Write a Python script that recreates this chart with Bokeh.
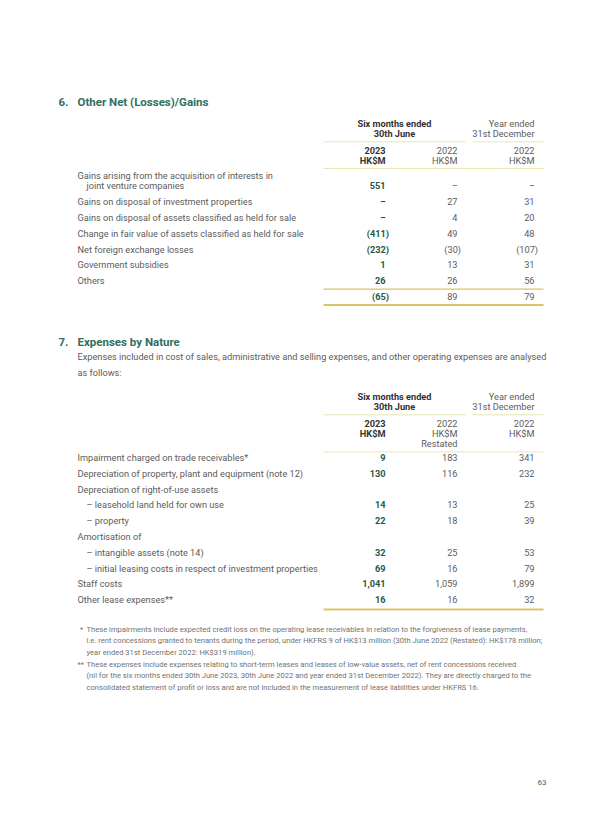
from bokeh.plotting import figure
from bokeh.models import Range1d, ColumnDataSource
from bokeh.core.properties import value
from bokeh.embed import file_html
from bokeh.resources import INLINE

# ---------------- data ----------------
s6_number = "6."
s6_title = "Other Net (Losses)/Gains"
s6_labels = [
    ["Gains arising from the acquisition of interests in", "joint venture companies"],
    ["Gains on disposal of investment properties"],
    ["Gains on disposal of assets classified as held for sale"],
    ["Change in fair value of assets classified as held for sale"],
    ["Net foreign exchange losses"],
    ["Government subsidies"],
    ["Others"],
]
s6_h1_2023 = [551, 0, 0, -411, -232, 1, 26]
s6_h1_2022 = [0, 27, 4, 49, -30, 13, 26]
s6_fy_2022 = [0, 31, 20, 48, -107, 31, 56]
s6_totals = [-65, 89, 79]

s7_number = "7."
s7_title = "Expenses by Nature"
s7_intro = [
    "Expenses included in cost of sales, administrative and selling expenses, and other operating expenses are analysed",
    "as follows:",
]
s7_labels = [
    "Impairment charged on trade receivables*",
    "Depreciation of property, plant and equipment (note 12)",
    "Depreciation of right-of-use assets",
    "\u2013 leasehold land held for own use",
    "\u2013 property",
    "Amortisation of",
    "\u2013 intangible assets (note 14)",
    "\u2013 initial leasing costs in respect of investment properties",
    "Staff costs",
    "Other lease expenses**",
]
s7_h1_2023 = [9, 130, None, 14, 22, None, 32, 69, 1041, 16]
s7_h1_2022 = [183, 116, None, 13, 18, None, 25, 16, 1059, 16]
s7_fy_2022 = [341, 232, None, 25, 39, None, 53, 79, 1899, 32]

group_heads = [["Six months ended", "30th June"], ["Year ended", "31st December"]]
col_heads_s6 = [["2023", "HK$M"], ["2022", "HK$M"], ["2022", "HK$M"]]
col_heads_s7 = [["2023", "HK$M"], ["2022", "HK$M", "Restated"], ["2022", "HK$M"]]

footnotes = [
    ("*", ["These impairments include expected credit loss on the operating lease receivables in relation to the forgiveness of lease payments,",
           "i.e. rent concessions granted to tenants during the period, under HKFRS 9 of HK$13 million (30th June 2022 (Restated): HK$178 million;",
           "year ended 31st December 2022: HK$319 million)."]),
    ("**", ["These expenses include expenses relating to short-term leases and leases of low-value assets, net of rent concessions received",
            "(nil for the six months ended 30th June 2023, 30th June 2022 and year ended 31st December 2022). They are directly charged to the",
            "consolidated statement of profit or loss and are not included in the measurement of lease liabilities under HKFRS 16."]),
]
page_number = "63"

# ---------------- styling / layout ----------------
FONT = "Roboto"
TEAL = "#2f6e5f"
GREEN = "#1f5a4a"
BODY = "#5c5c5c"
FOOT = "#727272"
DARK = "#333333"
PALE = "#ebe5b4"
GOLD = "#d9c466"

BODY_SIZE = "9.2px"
FOOT_SIZE = "7.6px"
HEAD_SIZE = "11.5px"

NUM_X = 58
LABEL_X = 77
INDENT = 9
COL_R = [385, 457, 534]
TABLE_L, TABLE_R = 323, 543
GROUP_SPAN = [(323, 465), (472, 543)]
ROW_STEP = 15.8
LINE_STEP = 10.3
HEAD_STEP = 10.4

p = figure(width=584, height=798, output_backend="svg", toolbar_location=None,
           x_range=Range1d(0, 584), y_range=Range1d(798, 0),
           min_border=0, min_border_left=0, min_border_right=0,
           min_border_top=0, min_border_bottom=0)
p.axis.visible = False
p.grid.visible = False
p.outline_line_color = None
p.background_fill_color = "white"
p.border_fill_color = "white"

texts = {k: [] for k in ["x", "y", "text", "color", "size", "style", "align"]}


def add_text(x, y, t, color=BODY, size=BODY_SIZE, style="normal", align="left"):
    texts["x"].append(x)
    texts["y"].append(y)
    texts["text"].append(t)
    texts["color"].append(color)
    texts["size"].append(size)
    texts["style"].append(style)
    texts["align"].append(align)


def fmt(v):
    if v is None:
        return ""
    if v == 0:
        return "\u2013"
    s = f"{abs(v):,}"
    return f"({s})" if v < 0 else s


def add_value(col, y, v, bold):
    t = fmt(v)
    if not t:
        return
    color = GREEN if bold else BODY
    style = "bold" if bold else "normal"
    x = COL_R[col]
    if v == 0:
        add_text(x - 2.5, y, t, color, BODY_SIZE, style, "center")
    elif v < 0:
        add_text(x + 3.5, y, t, color, BODY_SIZE, style, "right")
    else:
        add_text(x, y, t, color, BODY_SIZE, style, "right")


hlines = {k: [] for k in ["x0", "x1", "y", "color", "w"]}


def add_line(x0, x1, y, color, w):
    hlines["x0"].append(x0)
    hlines["x1"].append(x1)
    hlines["y"].append(y)
    hlines["color"].append(color)
    hlines["w"].append(w)


def add_header(y0, col_heads):
    for gi, lines in enumerate(group_heads):
        for li, t in enumerate(lines):
            yy = y0 + li * LINE_STEP
            if gi == 0:
                add_text((GROUP_SPAN[0][0] + GROUP_SPAN[0][1]) / 2, yy, t, DARK, BODY_SIZE, "bold", "center")
            else:
                add_text(COL_R[2], yy, t, BODY, BODY_SIZE, "normal", "right")
    yl = y0 + 2 * LINE_STEP - 2
    for a, b in GROUP_SPAN:
        add_line(a, b, yl, PALE, 1)
    yc = yl + 8.3
    nmax = 0
    for ci, lines in enumerate(col_heads):
        for li, t in enumerate(lines):
            bold = ci == 0
            add_text(COL_R[ci], yc + li * HEAD_STEP, t, DARK if bold else BODY, BODY_SIZE,
                     "bold" if bold else "normal", "right")
        nmax = max(nmax, len(lines))
    ybot = yc + (nmax - 1) * HEAD_STEP + 8
    add_line(TABLE_L, TABLE_R, ybot, PALE, 1)
    return ybot


# ---- Section 6 ----
add_text(NUM_X, 101.5, s6_number, TEAL, HEAD_SIZE, "bold")
add_text(LABEL_X, 101.5, s6_title, TEAL, HEAD_SIZE, "bold")
add_header(122.7, col_heads_s6)
y = 175
for i, lines in enumerate(s6_labels):
    for li, t in enumerate(lines):
        add_text(LABEL_X + (INDENT if li > 0 else 0), y + li * LINE_STEP, t)
    yv = y + (len(lines) - 1) * LINE_STEP
    add_value(0, yv, s6_h1_2023[i], True)
    add_value(1, yv, s6_h1_2022[i], False)
    add_value(2, yv, s6_fy_2022[i], False)
    y = yv + ROW_STEP
add_line(TABLE_L, TABLE_R, y - 7.3, GOLD, 1.2)
for ci, v in enumerate(s6_totals):
    add_value(ci, y + 0.5, v, ci == 0)
add_line(TABLE_L, TABLE_R, y + 8.5, GOLD, 2)

# ---- Section 7 ----
add_text(NUM_X, 341, s7_number, TEAL, HEAD_SIZE, "bold")
add_text(LABEL_X, 341, s7_title, TEAL, HEAD_SIZE, "bold")
for li, t in enumerate(s7_intro):
    add_text(LABEL_X, 356 + li * 16, t)
add_header(395.7, col_heads_s7)
y = 457
for i, t in enumerate(s7_labels):
    x = LABEL_X + (INDENT if t.startswith("\u2013") else 0)
    add_text(x, y, t)
    add_value(0, y, s7_h1_2023[i], True)
    add_value(1, y, s7_h1_2022[i], False)
    add_value(2, y, s7_fy_2022[i], False)
    y += ROW_STEP
add_line(TABLE_L, TABLE_R, y - 6, GOLD, 2)

# ---- Footnotes ----
fy = 629
for mark, lines in footnotes:
    add_text(LABEL_X + 5 - 2.5 * len(mark), fy, mark, FOOT, FOOT_SIZE)
    for t in lines:
        add_text(LABEL_X + INDENT, fy, t, FOOT, FOOT_SIZE)
        fy += 11.3
    fy += 1.2

add_text(546, 782, page_number, TEAL, "8px", "normal", "right")

# ---- render ----
src_l = ColumnDataSource(hlines)
p.segment(x0="x0", y0="y", x1="x1", y1="y", line_color="color", line_width="w", source=src_l)

for style in ["normal", "bold"]:
    for align in ["left", "right", "center"]:
        idx = [i for i in range(len(texts["x"])) if texts["style"][i] == style and texts["align"][i] == align]
        if not idx:
            continue
        d = {k: [texts[k][i] for i in idx] for k in ["x", "y", "text", "color", "size"]}
        p.text(x="x", y="y", text="text", text_color="color", text_font_size="size",
               text_font=value(FONT), text_font_style=style, text_align=align,
               text_baseline="middle", source=ColumnDataSource(d))

open("out.html", "w").write(file_html(p, INLINE))
